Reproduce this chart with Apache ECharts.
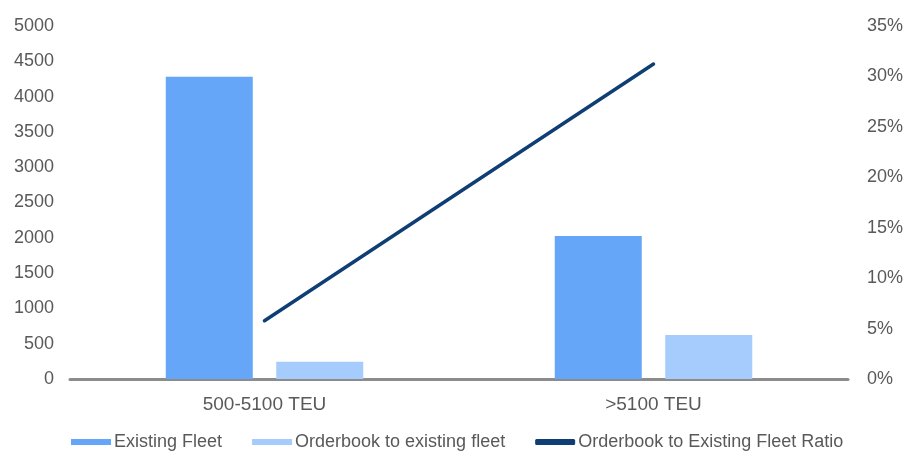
<!DOCTYPE html>
<html>
<head>
<meta charset="utf-8">
<script src="https://cdn.jsdelivr.net/npm/echarts@6/dist/echarts.min.js"></script>
<style>html,body{margin:0;padding:0;background:#fff}#c{width:909px;height:451px}</style>
</head>
<body>
<div id="c"></div>
<script>
const categories = ['500-5100 TEU', '>5100 TEU'];
const existingFleet = [4280, 2025];
const orderbook = [245, 623];
const ratio = [0.0578, 0.3123];
const seriesNames = ['Existing Fleet', 'Orderbook to existing fleet', 'Orderbook to Existing Fleet Ratio'];

const chart = echarts.init(document.getElementById('c'));
const txt = '#595959';
const font = 'Liberation Sans, Arial, sans-serif';
chart.setOption({
  animation: false,
  grid: { left: 70, right: 61, top: 26, bottom: 72 },
  legend: {
    bottom: 0, left: 71, padding: 0,
    itemWidth: 40, itemHeight: 6, itemGap: 30,
    textStyle: { color: txt, fontSize: 18, fontFamily: font, padding: [0, 0, 0, -2] },
    data: [
      { name: seriesNames[0], icon: 'rect' },
      { name: seriesNames[1], icon: 'rect' },
      { name: seriesNames[2], icon: 'roundRect' }
    ]
  },
  xAxis: {
    type: 'category', data: categories,
    axisLine: { lineStyle: { color: '#8c8c8c', width: 3 } },
    axisTick: { show: false },
    axisLabel: { color: txt, fontSize: 19, fontFamily: font, margin: 16 }
  },
  yAxis: [
    { type: 'value', min: 0, max: 5000, interval: 500,
      splitLine: { show: false }, axisLine: { show: false }, axisTick: { show: false },
      axisLabel: { color: txt, fontSize: 18, fontFamily: font, margin: 16,
        formatter: v => String(v) } },
    { type: 'value', min: 0, max: 0.35, interval: 0.05,
      splitLine: { show: false }, axisLine: { show: false }, axisTick: { show: false },
      axisLabel: { color: txt, fontSize: 18, fontFamily: font, margin: 19,
        formatter: v => Math.round(v * 100) + '%' } }
  ],
  series: [
    { name: seriesNames[0], type: 'bar', data: existingFleet, barWidth: 87, barGap: '27%',
      itemStyle: { color: '#66A6F8' } },
    { name: seriesNames[1], type: 'bar', data: orderbook, barWidth: 87,
      itemStyle: { color: '#A6CBFD' } },
    { name: seriesNames[2], type: 'line', yAxisIndex: 1, data: ratio,
      symbol: 'none', lineStyle: { color: '#0F3E75', width: 3.5, cap: 'round' },
      itemStyle: { color: '#0F3E75' } }
  ]
});
</script>
</body>
</html>
